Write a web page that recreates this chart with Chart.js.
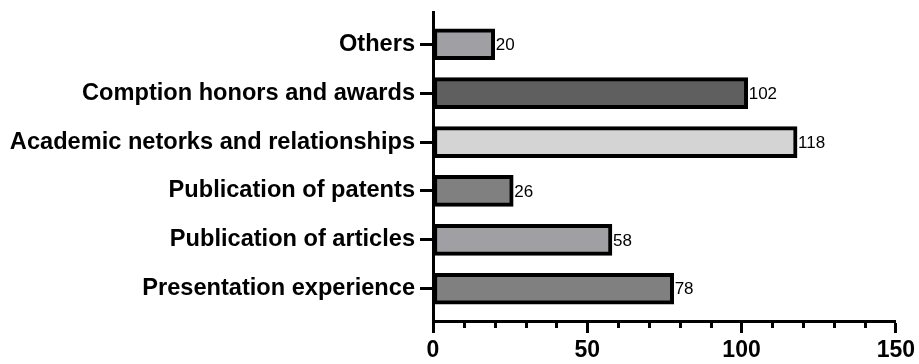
<!DOCTYPE html>
<html>
<head>
<meta charset="utf-8">
<script src="https://cdn.jsdelivr.net/npm/chart.js@4"></script>
<style>
  html, body { margin: 0; padding: 0; background: #fff; }
  #wrap { width: 919px; height: 364px; }
</style>
</head>
<body>
<div id="wrap"><canvas id="c"></canvas></div>
<script>
// Categories listed top to bottom
const categories = [
  'Others',
  'Comption honors and awards',
  'Academic netorks and relationships',
  'Publication of patents',
  'Publication of articles',
  'Presentation experience'
];
const counts = [20, 102, 118, 26, 58, 78];
const fills = ['#a0a0a4', '#5f5f5f', '#d4d4d4', '#808080', '#a0a0a4', '#808080'];
const xTickValues = [0, 50, 100, 150];

const FONT = '"Liberation Sans", Arial, Helvetica, sans-serif';

// Short minor ticks every 10 units along the value axis
const minorTicks = {
  id: 'minorTicks',
  afterDraw(chart) {
    const x = chart.scales.x;
    const y0 = chart.chartArea.bottom;
    const ctx = chart.ctx;
    ctx.save();
    ctx.strokeStyle = '#000';
    ctx.lineWidth = 3;
    for (let v = 10; v < 150; v += 10) {
      if (xTickValues.includes(v)) continue;
      const px = Math.round(x.getPixelForValue(v)) + 0.5;
      ctx.beginPath();
      ctx.moveTo(px, y0);
      ctx.lineTo(px, y0 + 7);
      ctx.stroke();
    }
    ctx.restore();
  }
};

// Value labels at the end of each bar
const valueLabels = {
  id: 'valueLabels',
  afterDatasetsDraw(chart) {
    const ctx = chart.ctx;
    const meta = chart.getDatasetMeta(0);
    ctx.save();
    ctx.font = '17px ' + FONT;
    ctx.fillStyle = '#000';
    ctx.textAlign = 'left';
    ctx.textBaseline = 'middle';
    meta.data.forEach((bar, i) => {
      ctx.fillText(String(counts[i]), bar.x + 1, bar.y + 1);
    });
    ctx.restore();
  }
};

new Chart(document.getElementById('c'), {
  type: 'bar',
  data: {
    datasets: [{
      data: counts.map((v, i) => ({ x: v, y: i })),
      backgroundColor: fills,
      borderColor: '#000',
      borderWidth: 4,
      borderSkipped: false,
      barThickness: 31
    }]
  },
  options: {
    indexAxis: 'y',
    responsive: true,
    maintainAspectRatio: false,
    animation: false,
    layout: { padding: { top: 12, right: 22, left: 0, bottom: 0 } },
    plugins: { legend: { display: false }, tooltip: { enabled: false } },
    scales: {
      x: {
        type: 'linear',
        min: 0,
        max: 150,
        afterBuildTicks(scale) { scale.ticks = xTickValues.map(v => ({ value: v })); },
        afterFit(scale) { scale.height = 43; },
        border: { display: true, color: '#000', width: 3 },
        grid: { drawOnChartArea: false, drawTicks: true, tickLength: 12, tickWidth: 3, tickColor: '#000' },
        ticks: {
          color: '#000',
          padding: 4,
          maxRotation: 0,
          font: { family: FONT, size: 23, weight: 'bold' }
        }
      },
      y: {
        type: 'linear',
        reverse: true,
        offset: false,
        min: -0.66,
        max: categories.length - 1 + 0.66,
        afterBuildTicks(scale) { scale.ticks = categories.map((_, i) => ({ value: i })); },
        afterFit(scale) {
          scale.width = 433;
          scale.paddingTop = 0;
          scale.paddingBottom = 0;
        },
        border: { display: true, color: '#000', width: 3 },
        grid: { offset: false, drawOnChartArea: false, drawTicks: true, tickLength: 13, tickWidth: 3, tickColor: '#000' },
        ticks: {
          color: '#000',
          padding: 5,
          autoSkip: false,
          callback: (v) => categories[v],
          font: { family: FONT, size: 23.6, weight: 'bold' }
        }
      }
    }
  },
  plugins: [minorTicks, valueLabels]
});
</script>
</body>
</html>
